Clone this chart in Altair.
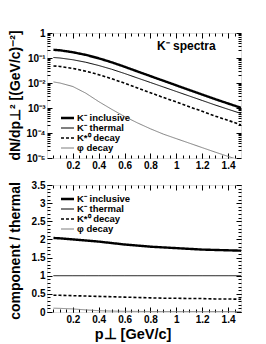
import altair as alt
import pandas as pd
import math

FONT = "Liberation Sans"

# ---- data ----
pt = [0.05, 0.1, 0.2, 0.3, 0.4, 0.5, 0.6, 0.7, 0.8, 0.9, 1.0, 1.1, 1.2, 1.3, 1.4, 1.5]

# dN/dp^2 spectra
inclusive = [0.2136, 0.203, 0.1702, 0.1332, 0.0972, 0.0675, 0.0446, 0.0289, 0.01885,
             0.01232, 0.00804, 0.00525, 0.00344, 0.00226, 0.001515, 0.001019]
thermal = [0.1047, 0.1, 0.0851, 0.0676, 0.0501, 0.0355, 0.0240, 0.0158, 0.01047,
           0.00692, 0.00457, 0.00302, 0.00200, 0.00132, 0.000891, 0.000603]
kstar = [0.0482, 0.046, 0.0383, 0.0297, 0.0215, 0.0149, 0.00984, 0.00632, 0.00408,
         0.00263, 0.00174, 0.00112, 0.00074, 0.000475, 0.000321, 0.000211]
phi = [0.0110, 0.0100, 0.00723, 0.00392, 0.00180, 0.000888, 0.000456, 0.000253, 0.000147,
       0.0000900, 0.0000594, 0.0000393, 0.000026, 0.0000172, 0.0000116, 0.0000078]

# component / thermal
r_inclusive = [2.04, 2.03, 2.00, 1.97, 1.94, 1.90, 1.86, 1.83, 1.80, 1.78, 1.76, 1.74, 1.72, 1.71, 1.70, 1.69]
r_thermal = [1.0] * 16
r_kstar = [0.46, 0.46, 0.45, 0.44, 0.43, 0.42, 0.41, 0.40, 0.39, 0.38, 0.38, 0.37, 0.37, 0.36, 0.36, 0.35]
r_phi = [0.105, 0.10, 0.085, 0.058, 0.036, 0.025, 0.019, 0.016, 0.014, 0.013, 0.013, 0.013, 0.013, 0.013, 0.013, 0.013]

series = ["K⁻ inclusive", "K⁻ thermal", "K*⁰ decay", "φ decay"]
colors = ["black", "black", "black", "#707070"]
widths = [2.4, 1.0, 1.6, 0.9]
dashes = [[1, 0], [1, 0], [3, 2], [1, 0]]

title_top = "dN/dp⊥² [(GeV/c)⁻²]"
title_bot = "component / thermal"
title_x = "p⊥ [GeV/c]"
panel_label = "K⁻ spectra"

x_major = [0.2, 0.4, 0.6, 0.8, 1.0, 1.2, 1.4]
x_minor = [round(0.05 * i, 2) for i in range(1, 30)]
log_major = [1, 0.1, 0.01, 0.001, 0.0001, 0.00001]
log_labels = ["1", "10⁻¹", "10⁻²", "10⁻³", "10⁻⁴", "10⁻⁵"]
log_minor = [m * 10 ** e for e in range(-5, 0) for m in range(2, 10)]
r_major = [0, 0.5, 1, 1.5, 2, 2.5, 3, 3.5]
r_minor = [round(0.1 * i, 1) for i in range(0, 36)]

top_vals = [inclusive, thermal, kstar, phi]
bot_vals = [r_inclusive, r_thermal, r_kstar, r_phi]

rows = []
for s, tv, bv in zip(series, top_vals, bot_vals):
    for p, a, b in zip(pt, tv, bv):
        rows.append({"pt": p, "val": a, "ratio": b, "series": s})
df = pd.DataFrame(rows)
legend_df = pd.DataFrame({"label": series})

W = 194
H_TOP = 125
H_BOT = 127

xs = alt.Scale(domain=[0, 1.5], nice=False, zero=False)
ys_top = alt.Scale(type="log", domain=[1e-5, 1], nice=False)
ys_bot = alt.Scale(domain=[0, 3.5], nice=False, zero=False)

expr = ""
for v, l in zip(log_major, log_labels):
    expr += f"abs(log(datum.value)/log(10) - ({math.log10(v):.0f})) < 0.1 ? '{l}' : "
expr += "''"


def ax(orient, values, size, labels=False, fmt=None, lexpr=None):
    kw = dict(orient=orient, values=values, tickSize=size, offset=-size, labels=labels,
              domain=False, grid=False, title=None, ticks=True, tickColor="black",
              tickWidth=1)
    if labels:
        kw.update(labelFont=FONT, labelFontSize=10, labelFontWeight="bold",
                  labelColor="black", labelPadding=2, labelOverlap=False, labelFlush=False)
        if fmt:
            kw["format"] = fmt
        if lexpr:
            kw["labelExpr"] = lexpr
    return alt.Axis(**kw)


def text_layer(txt, x, y, size, angle=0, align="left"):
    return alt.Chart(pd.DataFrame({"t": [txt]})).mark_text(
        font=FONT, fontSize=size, fontWeight="bold", angle=angle, align=align,
        baseline="middle", color="black"
    ).encode(text="t:N", x=alt.value(x), y=alt.value(y))


def panel(field, yscale, ymaj, ymin, is_log, legend_y0=0):
    layers = []
    axis_sets = [
        (ax("bottom", x_major, 5, True, fmt="~g"),
         ax("left", ymaj, 5, True, fmt=None if is_log else "~g", lexpr=expr if is_log else None)),
        (ax("bottom", x_minor, 3), ax("left", ymin, 3)),
        (ax("top", x_major, 5), ax("right", ymaj, 5)),
        (ax("top", x_minor, 3), ax("right", ymin, 3)),
    ]
    for xa, ya in axis_sets[1:]:
        layers.append(
            alt.Chart(df).transform_filter(alt.datum.series == series[1]).mark_line(opacity=0).encode(
                x=alt.X("pt:Q", scale=xs, axis=xa),
                y=alt.Y(f"{field}:Q", scale=yscale, axis=ya),
            )
        )
    for i, (s, c, w, d) in enumerate(zip(series, colors, widths, dashes)):
        xa, ya = axis_sets[0] if i == 0 else (None, None)
        layers.append(
            alt.Chart(df).transform_filter(alt.datum.series == s).mark_line(
                clip=True, color=c, strokeWidth=w, strokeDash=d
            ).encode(
                x=alt.X("pt:Q", scale=xs, axis=xa),
                y=alt.Y(f"{field}:Q", scale=yscale, axis=ya),
            )
        )
        ly = legend_y0 + 10 * i
        layers.append(
            alt.Chart(legend_df).transform_filter(alt.datum.label == s).mark_rule(
                color=c, strokeWidth=w, strokeDash=d
            ).encode(x=alt.value(14), x2=alt.value(27), y=alt.value(ly))
        )
        layers.append(
            alt.Chart(legend_df).transform_filter(alt.datum.label == s).mark_text(
                font=FONT, fontSize=9.5, fontWeight="bold", align="left",
                baseline="middle", color="black"
            ).encode(text="label:N", x=alt.value(30), y=alt.value(ly))
        )
    return layers


top_layers = panel("val", ys_top, log_major, log_minor, True, legend_y0=85)
top_layers.append(text_layer(panel_label, 110, 13, 12))
top_layers.append(text_layer(title_top, -31, H_TOP / 2, 14, angle=270, align="center"))

bot_layers = panel("ratio", ys_bot, r_major, r_minor, False, legend_y0=14)
bot_layers.append(text_layer(title_bot, -31, 66, 14, angle=270, align="center"))
bot_layers.append(text_layer(title_x, 86, 150, 14.5, align="center"))

top = alt.layer(*top_layers).resolve_axis(x="independent", y="independent").properties(width=W, height=H_TOP)
bot = alt.layer(*bot_layers).resolve_axis(x="independent", y="independent").properties(width=W, height=H_BOT)

chart = alt.vconcat(top, bot, spacing=8).properties(
    padding={"left": 0, "top": 19, "right": 5, "bottom": 5}
).configure_view(stroke="black", strokeWidth=1).configure(background="white")

chart.save("out.html", embed_options={"renderer": "svg", "actions": False})
